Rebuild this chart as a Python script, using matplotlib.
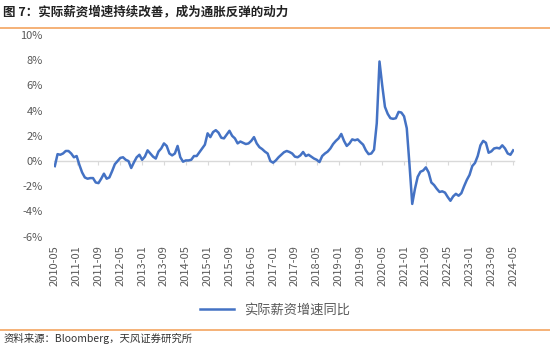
import pandas as pd
import matplotlib.pyplot as plt
from matplotlib.ticker import FuncFormatter

plt.rcParams['font.family'] = ['Noto Sans CJK SC', 'DejaVu Sans']

# Monthly real wage growth YoY (%), 2010-05 .. 2024-05
months = pd.date_range('2010-05-01', '2024-05-01', freq='MS')
wage_yoy = [
    -0.4, 0.55, 0.5, 0.6, 0.8, 0.8, 0.6, 0.3, 0.4, -0.3,
    -0.9, -1.3, -1.4, -1.35, -1.35, -1.7, -1.75, -1.4, -1.0, -1.4,
    -1.3, -0.8, -0.25, 0.0, 0.25, 0.3, 0.1, 0.0, -0.55, -0.1,
    0.3, 0.5, 0.1, 0.35, 0.85, 0.6, 0.35, 0.2, 0.75, 1.0,
    1.4, 1.2, 0.6, 0.45, 0.6, 1.2, 0.3, -0.05, 0.05, 0.05,
    0.1, 0.4, 0.4, 0.7, 1.0, 1.3, 2.2, 1.9, 2.3, 2.45,
    2.25, 1.85, 1.8, 2.1, 2.4, 2.0, 1.8, 1.4, 1.55, 1.45,
    1.35, 1.4, 1.6, 1.9, 1.4, 1.1, 0.95, 0.75, 0.6, 0.0,
    -0.13, 0.05, 0.3, 0.5, 0.7, 0.8, 0.72, 0.6, 0.35, 0.3,
    0.45, 0.72, 0.4, 0.5, 0.35, 0.2, 0.1, -0.08, 0.4, 0.6,
    0.75, 1.0, 1.35, 1.6, 1.8, 2.15, 1.6, 1.2, 1.4, 1.72,
    1.65, 1.72, 1.5, 1.3, 0.85, 0.55, 0.6, 0.9, 3.0, 7.9,
    6.0, 4.3, 3.75, 3.4, 3.35, 3.4, 3.9, 3.85, 3.55, 2.6,
    -0.3, -3.4, -2.2, -1.25, -0.85, -0.75, -0.5, -0.9, -1.7, -1.9,
    -2.2, -2.45, -2.4, -2.5, -2.85, -3.15, -2.8, -2.6, -2.75, -2.55,
    -2.0, -1.5, -1.1, -0.4, -0.15, 0.4, 1.25, 1.6, 1.45, 0.66,
    0.77, 1.0, 1.05, 1.0, 1.25, 1.0, 0.6, 0.5, 0.85,
]
tick_step = 8
tick_idx = list(range(0, len(months), tick_step))
tick_labels = [months[i].strftime('%Y-%m') for i in tick_idx]

title = '图 7：实际薪资增速持续改善，成为通胀反弹的动力'
series_name = '实际薪资增速同比'
source = '资料来源：Bloomberg，天风证券研究所'

fig = plt.figure(figsize=(5.5, 3.46), dpi=100)
ax = fig.add_axes([54 / 550, 1 - 236.7 / 346, 460 / 550, (236.7 - 35) / 346])

x = list(range(len(months)))
line, = ax.plot(x, wage_yoy, color='#4472C4', lw=1.8, label=series_name)

ax.set_xlim(-0.3, 168.3)
ax.set_ylim(-6, 10)
ax.set_yticks(range(-6, 11, 2))
ax.yaxis.set_major_formatter(FuncFormatter(lambda v, p: f'{v:.0f}%'))
ax.tick_params(axis='y', length=0, labelsize=8, labelcolor='#595959', pad=8)

# category labels at the bottom, no ticks
ax.set_xticks(tick_idx)
ax.set_xticklabels(tick_labels, rotation=90)
ax.tick_params(axis='x', length=0, labelsize=8, labelcolor='#595959', pad=6)

for s in ax.spines.values():
    s.set_visible(False)

# axis line with tick marks through zero
zero_ax = ax.secondary_xaxis(6 / 16)
zero_ax.set_xticks(tick_idx)
zero_ax.set_xticklabels([])
zero_ax.tick_params(axis='x', length=3, width=0.8, color='#D9D9D9')
zero_ax.spines['bottom'].set_color('#D9D9D9')
zero_ax.spines['bottom'].set_linewidth(1.0)

ax.legend(handles=[line], loc='center', bbox_to_anchor=(0.5, 1 - 310 / 346),
          bbox_transform=fig.transFigure, frameon=False, fontsize=9.5,
          handlelength=2.6, labelcolor='#595959')

fig.text(0.006, 1 - 12 / 346, title, fontsize=9, fontweight='bold',
         color='#222222', va='center', ha='left')
fig.add_artist(plt.Line2D([0, 1], [1 - 27.5 / 346] * 2, color='#F4A460', lw=1.2))
fig.add_artist(plt.Line2D([0, 1], [1 - 330 / 346] * 2, color='#F4A460', lw=1.2))
fig.text(0.006, 1 - 338.5 / 346, source, fontsize=7.5, color='#333333',
         va='center', ha='left')

fig.savefig('out.png', dpi=100)
